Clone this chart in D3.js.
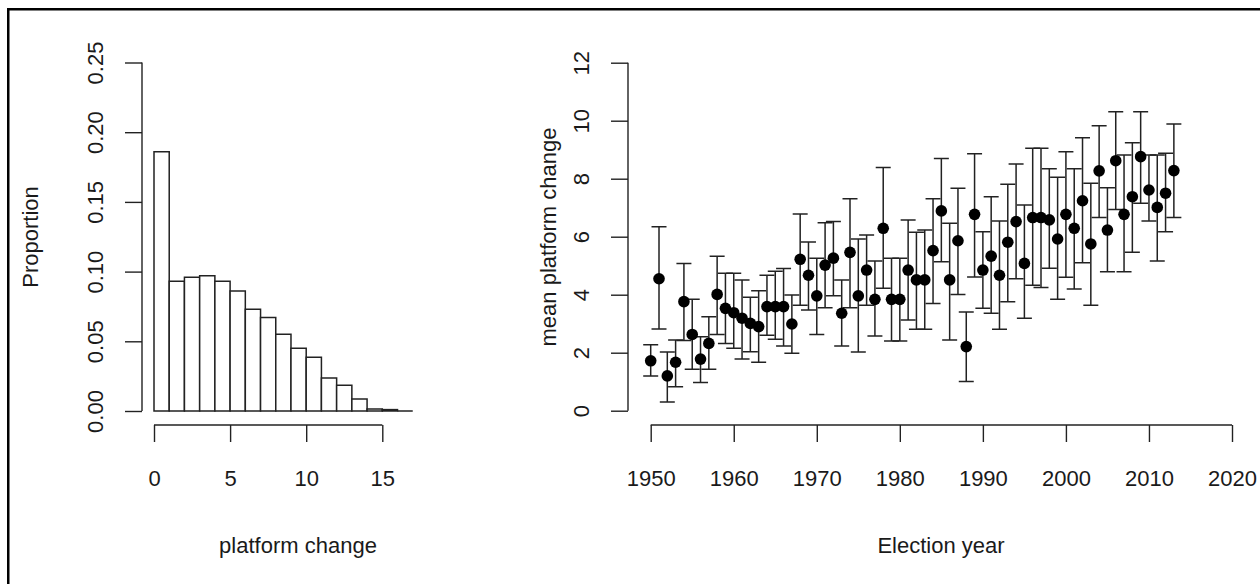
<!DOCTYPE html>
<html><head><meta charset="utf-8">
<script src="https://cdn.jsdelivr.net/npm/d3@7"></script>
<style>
html,body{margin:0;padding:0;background:#fff;}
svg text{font-family:"Liberation Sans",Arial,sans-serif;fill:#1a1a1a;}
</style></head>
<body>
<svg id="chart" width="1260" height="584"></svg>
<script>
// ---------- data ----------
const histBinStart = [0,1,2,3,4,5,6,7,8,9,10,11,12,13,14,15,16];
const histProportion = [0.186,0.093,0.096,0.097,0.093,0.086,0.073,0.067,0.055,0.045,0.0385,0.0236,0.0184,0.0086,0.0014,0.0010,0.0];
const histXTicks = [0,5,10,15];
const histYTicks = [0.00,0.05,0.10,0.15,0.20,0.25];

const years = [1950,1951,1952,1953,1954,1955,1956,1957,1958,1959,
  1960,1961,1962,1963,1964,1965,1966,1967,1968,1969,
  1970,1971,1972,1973,1974,1975,1976,1977,1978,1979,
  1980,1981,1982,1983,1984,1985,1986,1987,1988,1989,
  1990,1991,1992,1993,1994,1995,1996,1997,1998,1999,
  2000,2001,2002,2003,2004,2005,2006,2007,2008,2009,
  2010,2011,2012,2013];
const meanChange = [1.72,4.55,1.20,1.67,3.76,2.63,1.78,2.32,4.01,3.53,
  3.38,3.19,3.01,2.90,3.59,3.59,3.59,2.99,5.22,4.67,
  3.96,5.02,5.26,3.36,5.46,3.96,4.85,3.84,6.29,3.84,
  3.84,4.85,4.51,4.51,5.52,6.89,4.51,5.86,2.21,6.77,
  4.85,5.33,4.67,5.81,6.52,5.08,6.66,6.66,6.58,5.92,
  6.77,6.29,7.24,5.75,8.27,6.23,8.62,6.77,7.38,8.76,
  7.61,7.01,7.50,8.28];
const lowerCI = [1.20,2.82,0.30,0.83,2.42,1.43,0.97,1.43,2.63,2.32,
  2.15,1.78,2.03,1.67,2.60,2.46,2.23,1.98,3.64,3.47,
  2.63,3.55,3.96,2.23,3.55,2.02,3.64,2.58,4.22,2.40,
  2.40,3.13,2.81,2.81,3.70,5.14,2.44,4.01,1.01,4.61,
  3.53,3.36,2.81,3.76,4.55,3.19,4.33,4.25,4.91,3.84,
  4.60,4.20,5.10,3.64,6.66,4.79,6.94,4.79,5.46,7.15,
  6.54,5.16,6.17,6.66];
const upperCI = [2.27,6.34,2.02,2.44,5.08,3.84,2.55,3.24,5.33,4.74,
  4.74,4.51,3.91,4.14,4.67,4.81,4.90,3.99,6.78,5.82,
  5.26,6.48,6.52,4.51,7.31,5.92,6.06,5.16,8.39,5.26,
  5.26,6.58,6.15,6.23,7.31,8.70,6.46,7.67,3.40,8.86,
  6.17,7.38,6.54,7.81,8.51,7.09,9.05,9.05,8.34,8.05,
  8.93,8.34,9.41,7.84,9.83,7.69,10.31,8.82,9.24,10.31,
  8.82,8.82,8.88,9.89];
const yearTicks = [1950,1960,1970,1980,1990,2000,2010,2020];
const meanYTicks = [0,2,4,6,8,10,12];

// ---------- layout ----------
const svg = d3.select("#chart");
const ink = "#222";
const fontSize = 22;

svg.append("rect").attr("x",8.25).attr("y",9.25).attr("width",1400).attr("height",800)
  .attr("fill","none").attr("stroke","#000").attr("stroke-width",2.5);

function drawAxes(xScale, yScale, xTicks, yTicks, xFmt, yFmt, axisX, axisY, xTitle, yTitle, yTitleX, xTitleCenter, yTitleCenter){
  // y axis
  const gy = svg.append("g").attr("transform",`translate(${axisX},0)`)
    .call(d3.axisLeft(yScale).tickValues(yTicks).tickSize(17).tickFormat(yFmt));
  gy.select(".domain").remove();
  gy.selectAll(".tick line").attr("stroke",ink).attr("stroke-width",1.4);
  gy.selectAll(".tick text").attr("x",null).attr("dy",null).attr("fill",null)
    .attr("text-anchor","middle").style("font-size",fontSize+"px")
    .attr("transform","translate(-39,0) rotate(-90)");
  gy.append("line").attr("x1",0).attr("x2",0)
    .attr("y1",yScale(yTicks[0])).attr("y2",yScale(yTicks[yTicks.length-1]))
    .attr("stroke",ink).attr("stroke-width",1.4);
  // x axis
  const gx = svg.append("g").attr("transform",`translate(0,${axisY})`)
    .call(d3.axisBottom(xScale).tickValues(xTicks).tickSize(17).tickFormat(xFmt));
  gx.select(".domain").remove();
  gx.selectAll(".tick line").attr("stroke",ink).attr("stroke-width",1.4);
  gx.selectAll(".tick text").attr("y",61).attr("dy",null).attr("fill",null)
    .style("font-size",fontSize+"px");
  gx.append("line").attr("y1",0).attr("y2",0)
    .attr("x1",xScale(xTicks[0])).attr("x2",xScale(xTicks[xTicks.length-1]))
    .attr("stroke",ink).attr("stroke-width",1.4);
  // titles
  svg.append("text").attr("x",xTitleCenter).attr("y",553).attr("text-anchor","middle")
    .style("font-size",fontSize+"px").text(xTitle);
  svg.append("text").attr("transform",`translate(${yTitleX},${yTitleCenter}) rotate(-90)`)
    .attr("text-anchor","middle").style("font-size",fontSize+"px").text(yTitle);
}

// ---------- histogram ----------
const xH = d3.scaleLinear().domain([0,15]).range([154,382.3]);
const yH = d3.scaleLinear().domain([0,0.25]).range([411,62.5]);
drawAxes(xH, yH, histXTicks, histYTicks, d3.format("d"), d3.format(".2f"),
  142, 425, "platform change", "Proportion", 38, 298, 237);

svg.append("g").selectAll("path").data(histBinStart).join("path")
  .attr("d",(d,i)=>`M${xH(d)},${yH(0)}V${yH(histProportion[i])}H${xH(d+1)}V${yH(0)}Z`)
  .attr("fill","#fff").attr("stroke",ink).attr("stroke-width",1.5);

// ---------- means with error bars ----------
const xR = d3.scaleLinear().domain([1950,2020]).range([650.7,1232]);
const yR = d3.scaleLinear().domain([0,12]).range([410.7,62.7]);
drawAxes(xR, yR, yearTicks, meanYTicks, d3.format("d"), d3.format("d"),
  628, 425, "Election year", "mean platform change", 556, 941, 237);

const capW = 7.5;
const eb = svg.append("g").attr("stroke",ink).attr("stroke-width",1.5).attr("fill","none");
years.forEach((yr,i)=>{
  const x = xR(yr);
  eb.append("path").attr("d",
    `M${x},${yR(lowerCI[i])}V${yR(upperCI[i])}` +
    `M${x-capW},${yR(upperCI[i])}H${x+capW}` +
    `M${x-capW},${yR(lowerCI[i])}H${x+capW}`);
});
svg.append("g").selectAll("circle").data(years).join("circle")
  .attr("cx",d=>xR(d)).attr("cy",(d,i)=>yR(meanChange[i])).attr("r",5.8).attr("fill","#000");
</script>
</body></html>
